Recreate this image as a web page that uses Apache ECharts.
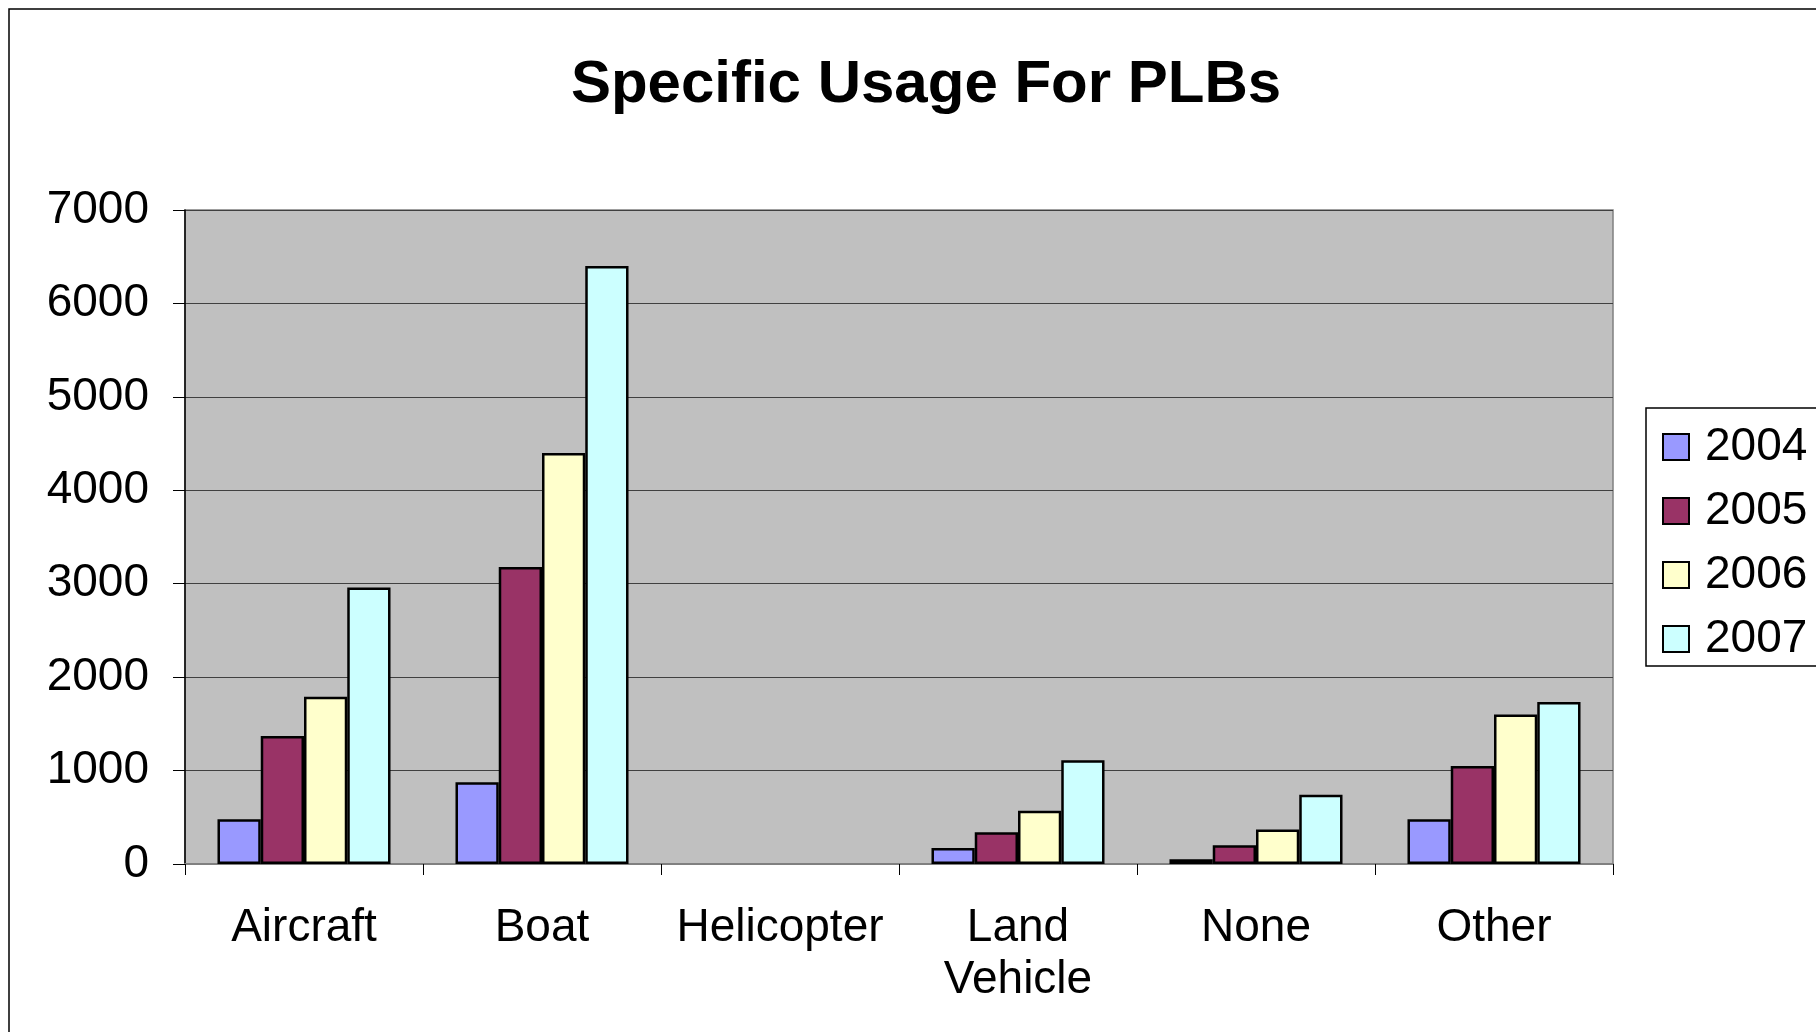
<!DOCTYPE html>
<html>
<head>
<meta charset="utf-8">
<script src="https://cdn.jsdelivr.net/npm/echarts@6/dist/echarts.min.js"></script>
<style>
  html, body { margin: 0; padding: 0; background: #fff; }
  #chart { width: 1816px; height: 1032px; }
</style>
</head>
<body>
<div id="chart"></div>
<script>
// data
const categories = ['Aircraft', 'Boat', 'Helicopter', 'Land\nVehicle', 'None', 'Other']
const years = ['2004', '2005', '2006', '2007']
const v2004 = [480, 875, 0, 170, 50, 480]
const v2005 = [1370, 3180, 0, 340, 200, 1050]
const v2006 = [1790, 4400, 0, 570, 370, 1600]
const v2007 = [2960, 6400, 0, 1110, 740, 1735]
const yearColors = ['#9999FF', '#993366', '#FFFFCC', '#CCFFFF']

const font = '"Liberation Sans", Arial, sans-serif'
const chart = echarts.init(document.getElementById('chart'))

const seriesData = [v2004, v2005, v2006, v2007]
const series = years.map((y, i) => {
  return {
    name: y,
    type: 'bar',
    // zero bars are not drawn at all (no border line)
    data: seriesData[i].map(v => v === 0 ? { value: 0, itemStyle: { borderWidth: 0, opacity: 0 } } : v),
    barGap: '0%',
    barCategoryGap: '27.3%',
    itemStyle: {
      color: yearColors[i],
      borderColor: '#000',
      borderWidth: 2.5
    }
  }
})

chart.setOption({
  animation: false,
  backgroundColor: '#fff',
  graphic: [
    {
      // outer frame of the chart area
      type: 'rect',
      shape: { x: 9, y: 9, width: 1900, height: 1100 },
      style: { fill: null, stroke: '#000', lineWidth: 1.5 }
    }
  ],
  title: {
    text: 'Specific Usage For PLBs',
    left: 921,
    textAlign: 'center',
    top: 50,
    textStyle: {
      fontFamily: font,
      fontWeight: 'bold',
      fontSize: 60,
      color: '#000'
    }
  },
  legend: {
    orient: 'vertical',
    left: 1646,
    top: 408,
    padding: [16, 30, 4, 16],
    backgroundColor: '#fff',
    borderColor: '#000',
    borderWidth: 1.5,
    itemWidth: 26,
    itemHeight: 26,
    itemGap: 18,
    icon: 'rect',
    textStyle: {
      fontFamily: font,
      fontSize: 46,
      lineHeight: 46,
      color: '#000',
      padding: [0, 0, 0, 11]
    },
    data: years
  },
  grid: {
    left: 185,
    right: 203,
    top: 210,
    bottom: 168,
    show: true,
    backgroundColor: '#C0C0C0',
    borderColor: '#808080',
    borderWidth: 1.5
  },
  xAxis: {
    type: 'category',
    data: categories,
    axisLine: { lineStyle: { color: '#808080', width: 2 } },
    axisTick: { show: true, length: 11, lineStyle: { color: '#000', width: 1 } },
    axisLabel: {
      fontFamily: font,
      fontSize: 46,
      lineHeight: 52,
      color: '#000',
      margin: 38,
      interval: 0
    }
  },
  yAxis: {
    type: 'value',
    min: 0,
    max: 7000,
    interval: 1000,
    axisLine: { show: true, lineStyle: { color: '#000', width: 1.5 } },
    axisTick: { show: true, length: 12, lineStyle: { color: '#000', width: 1 } },
    splitLine: { lineStyle: { color: '#404040', width: 1.2 } },
    axisLabel: {
      fontFamily: font,
      fontSize: 46,
      color: '#000',
      margin: 36,
      formatter: v => String(v)
    }
  },
  series: series
})
</script>
</body>
</html>
